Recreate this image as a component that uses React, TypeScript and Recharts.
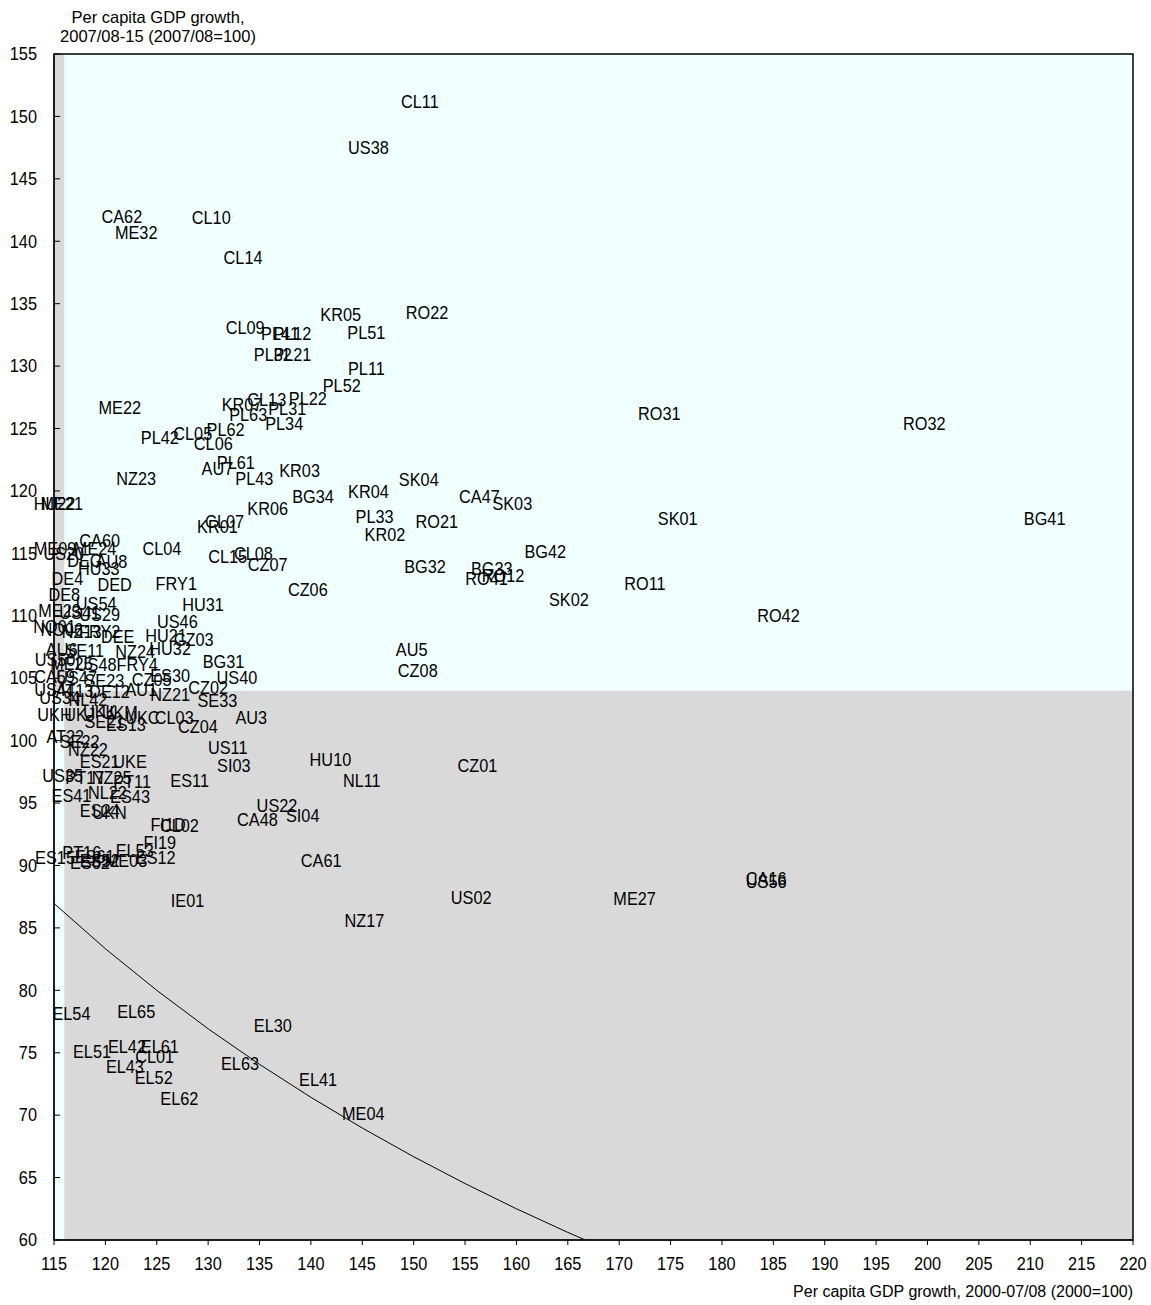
import React from 'react';
import { ScatterChart, Scatter, XAxis, YAxis, ReferenceArea, Customized } from 'recharts';

const FONT = '"Liberation Sans", Arial, sans-serif';
const FS = 16.3;

const codes = [
  'CL11','US38','CA62','ME32','CL10','CL14','CL09','PL41','PL12','PL32','PL21','KR05','RO22','PL51','PL11','PL52','PL22','CL13','KR07','PL63','PL31','PL34','CL05','PL62','CL06','PL42','ME22','RO31','RO32','NZ23','AU7','PL61','PL43','KR03','BG34','KR06','CL07','KR01','KR04','SK04','CA47','SK03','PL33','RO21','KR02','SK01','BG41','CL04','CL15','CL08','CZ07','BG42','BG32','BG33','RO12','RO41','RO11','CZ06','FRY1','SK02','RO42','HU31','US46','HU21','CZ03','HU32','BG31','US40','AU5','CZ08','NZ24','FRY4','CZ05','ES30','CZ02','SE33','NZ21','AU3','CL03','CZ04','AU1',
  'US11','SI03','HU10','NL11','CZ01','ES11','US22','SI04','CA48','FI1D','CL02','FI19','EL53','ES12','CA61','IE01','NZ17','US02','ME27','CA16','US56','ES43','ES41','NL22','ES24','UKN','ES15','ME03','EL54','EL65','EL51','EL42','EL61','CL01','EL43','EL52','EL62','EL30','EL63','EL41','ME04',
  'HU22','ME21','CA60','ME09','ME24','US20','DEG','AU8','HU33','DE4','DED','DE8','US54','ME23','US41','US29','NO01','NO06','NZ13','FRY2','DEE','AU6','SE11','ME25','US50','US48','CA59','US47','SE23','US44','AT13','DE12','US34','NL42','UKH','UKJ','UKK','UKM','UKC','SE21','ES13','AT22','SE22','NZ22','ES21','UKE','US35','PT17','NZ25','PT11','PT16','ES61','ES62','ES52'
];

const growth0007 = [
  150.6,145.6,121.6,123.0,130.3,133.4,133.6,137.0,138.2,136.3,138.2,142.9,151.3,145.4,145.4,143.0,139.7,135.7,133.3,133.9,137.7,137.4,128.5,131.7,130.5,125.3,121.4,173.9,199.7,123.0,130.9,132.7,134.5,138.9,140.2,135.8,131.6,130.9,145.6,150.5,156.4,159.6,146.2,152.25,147.2,175.7,211.4,125.5,131.9,134.4,135.8,162.8,151.1,157.6,158.7,157.1,172.5,139.7,126.9,165.1,185.5,129.5,127.0,125.9,128.6,126.3,131.5,132.8,149.8,150.4,122.9,123.1,124.5,126.3,130.0,130.9,126.3,134.2,126.7,129.0,123.5,
  131.9,132.5,141.9,144.95,156.2,128.2,136.7,139.2,134.8,126.1,127.2,125.3,122.85,124.9,141.0,128.0,145.2,155.6,171.5,184.3,184.3,122.4,116.7,120.2,119.45,120.4,115.1,122.0,116.7,123.0,118.7,122.1,125.3,124.8,121.9,124.7,127.2,136.3,133.1,140.7,145.1,
  115.05,115.75,119.45,115.1,119.0,115.95,118.0,120.6,119.35,116.3,120.9,116.0,119.1,115.55,117.5,119.45,115.05,115.75,117.7,119.45,121.2,115.75,118.0,116.7,115.1,119.1,115.05,117.2,119.9,115.05,117.0,120.4,115.55,118.3,115.05,117.5,119.45,121.4,123.6,119.9,122.0,116.1,117.5,118.3,119.45,122.4,115.85,118.0,120.6,122.6,117.7,118.95,118.5,119.45
];

const growth0715 = [
  151.2,147.5,142.0,140.7,141.9,138.7,133.1,132.6,132.6,130.9,130.9,134.1,134.3,132.7,129.8,128.4,127.4,127.3,126.9,126.1,126.6,125.4,124.6,124.9,123.8,124.3,126.7,126.2,125.4,121.0,121.8,122.3,121.0,121.6,119.5,118.6,117.5,117.1,119.9,120.9,119.5,118.95,117.9,117.5,116.5,117.75,117.75,115.4,114.7,115.0,114.1,115.1,113.9,113.8,113.2,112.95,112.6,112.1,112.6,111.3,110.0,110.9,109.5,108.4,108.1,107.4,106.3,105.0,107.3,105.6,107.1,106.1,104.9,105.2,104.2,103.2,103.7,101.8,101.8,101.1,104.1,
  99.4,98.0,98.5,96.8,98.0,96.8,94.8,94.0,93.7,93.3,93.2,91.8,91.2,90.6,90.35,87.2,85.6,87.4,87.3,88.9,88.7,95.5,95.6,95.8,94.4,94.2,90.6,90.4,78.1,78.3,75.1,75.5,75.5,74.7,73.9,73.0,71.3,77.2,74.1,72.8,70.1,
  119.0,118.95,116.0,115.4,115.35,115.0,114.4,114.3,113.75,113.0,112.5,111.7,111.0,110.4,110.25,110.1,109.1,108.9,108.7,108.7,108.3,107.3,107.2,106.2,106.5,106.1,105.1,105.0,104.8,104.1,104.0,103.9,103.4,103.3,102.05,102.05,102.3,102.2,101.8,101.5,101.3,100.3,99.9,99.3,98.3,98.3,97.2,97.0,97.0,96.7,91.05,90.7,90.2,90.4
];

const curveX = [115, 120, 125, 130, 135, 140, 145, 150, 155, 160, 165, 166.7];
const curveY = [86.96, 83.33, 80.0, 76.92, 74.07, 71.43, 68.97, 66.67, 64.52, 62.5, 60.61, 60.0];

const xTicks = [115,120,125,130,135,140,145,150,155,160,165,170,175,180,185,190,195,200,205,210,215,220];
const yTicks = [60,65,70,75,80,85,90,95,100,105,110,115,120,125,130,135,140,145,150,155];

const points = codes.map((name, i) => ({ name, x: growth0007[i], y: growth0715[i] }));
const curve = curveX.map((x, i) => ({ x, y: curveY[i] }));

const TallText = ({ x, y, anchor, children }: any) => (
  <text transform={`translate(${x} ${y}) scale(1 1.1)`} x={0} y={0} textAnchor={anchor} dominantBaseline="central"
    fontSize={FS} fontFamily={FONT} fill="#000">
    {children}
  </text>
);

const LabelShape = (props: any) => {
  const { cx, cy, payload } = props;
  return <TallText x={cx} y={cy} anchor="middle">{payload.name}</TallText>;
};

const XTick = (props: any) => {
  const { x, y, payload } = props;
  return (
    <g>
      <line x1={x} y1={y} x2={x} y2={y + 5} stroke="#000" strokeWidth={1} />
      <TallText x={x} y={y + 24} anchor="middle">{payload.value}</TallText>
    </g>
  );
};

const YTick = (props: any) => {
  const { x, y, payload } = props;
  return (
    <g>
      <line x1={x} y1={y} x2={x + 6} y2={y} stroke="#000" strokeWidth={1} />
      <TallText x={x - 17} y={y} anchor="end">{payload.value}</TallText>
    </g>
  );
};

const Titles = () => (
  <g fontFamily={FONT} fill="#000">
    <text x={158} y={23} textAnchor="middle" fontSize={16.5}>Per capita GDP growth,</text>
    <text x={158} y={42} textAnchor="middle" fontSize={16.5}>2007/08-15 (2007/08=100)</text>
    <text x={1133} y={1297} textAnchor="end" fontSize={16}>Per capita GDP growth, 2000-07/08 (2000=100)</text>
    <text x={1112} y={92} textAnchor="end" fontSize={25.5}>Continuous high growth (above median)</text>
    <text x={1110} y={1214} textAnchor="end" fontSize={25.5}>High growth followed by low growth/decline</text>
  </g>
);

const Empty = () => <g />;

export default function App() {
  return (
    <div style={{ width: 1151, height: 1305, overflow: 'hidden' }}>
      <style>{'body{margin:0;}'}</style>
      <ScatterChart width={1151} height={1305} margin={{ top: 54, right: 18, left: 0, bottom: 25 }}>
        <XAxis type="number" dataKey="x" domain={[115, 220]} ticks={xTicks} interval={0}
          height={40} tickSize={0} tickMargin={0} tickLine={false} stroke="#000" tick={<XTick />} />
        <YAxis type="number" dataKey="y" domain={[60, 155]} ticks={yTicks} interval={0}
          width={54} tickSize={0} tickMargin={0} tickLine={false} stroke="#000" tick={<YTick />} />
        <ReferenceArea x1={115} x2={220} y1={60} y2={155} fill="#d9d9d9" fillOpacity={1} stroke="none" />
        <ReferenceArea x1={116} x2={220} y1={104} y2={155} fill="#f0ffff" fillOpacity={1} stroke="none" />
        <ReferenceArea x1={115} x2={116} y1={60} y2={104} fill="#f0ffff" fillOpacity={1} stroke="none" />
        <Scatter data={curve} line={{ stroke: '#000', strokeWidth: 1 }} lineType="joint" shape={<Empty />} isAnimationActive={false} />
        <Scatter data={points} shape={<LabelShape />} isAnimationActive={false} />
        <ReferenceArea x1={115} x2={220} y1={60} y2={155} fill="none" stroke="#000" strokeWidth={1.5} />
        <Customized component={Titles} />
      </ScatterChart>
    </div>
  );
}
